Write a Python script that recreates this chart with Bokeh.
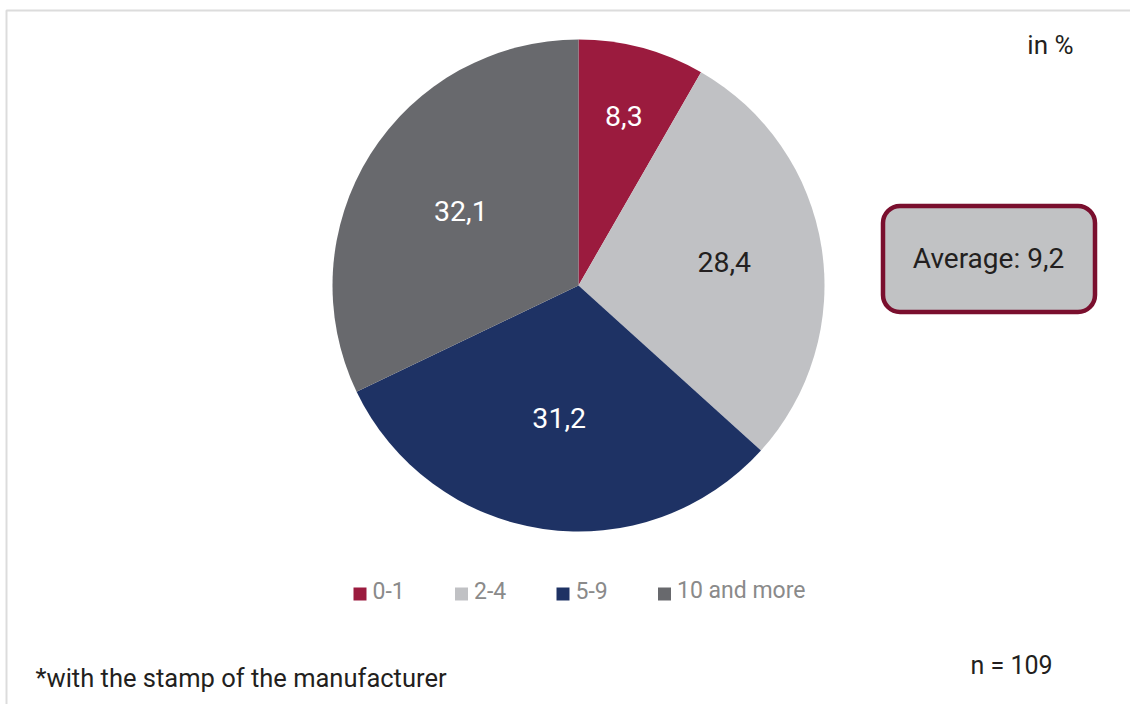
import numpy as np
from bokeh.plotting import figure
from bokeh.models import Range1d, BoxAnnotation, ColumnDataSource
from bokeh.core.properties import value
from bokeh.embed import file_html
from bokeh.resources import INLINE

# ---- data ----
categories = ["0-1", "2-4", "5-9", "10 and more"]
shares = [8.3, 28.4, 31.2, 32.1]
share_labels = ["8,3", "28,4", "31,2", "32,1"]
average_text = "Average: 9,2"
unit_text = "in %"
note_text = "*with the stamp of the manufacturer"
n_text = "n = 109"

# ---- style / layout ----
colors = ["#9B1B3E", "#C0C1C4", "#1E3264", "#68696D"]
label_colors = ["#FFFFFF", "#231F20", "#FFFFFF", "#FFFFFF"]
label_radius = [0.715, 0.60, 0.545, 0.565]
FONT = "Roboto"
W, H = 1130, 704
CX, CY, R = 578, 285, 246


def Y(py):
    return H - py


p = figure(width=W, height=H, x_range=Range1d(0, W), y_range=Range1d(0, H),
           x_axis_type=None, y_axis_type=None, output_backend="svg",
           toolbar_location=None, min_border=0)
p.grid.visible = False
p.outline_line_color = None
p.background_fill_color = "white"
p.border_fill_color = "white"

# frame lines (top + left)
p.line(x=[6, 6, W], y=[Y(H), Y(10), Y(10)], line_color="#DCDCDC", line_width=2)

# pie
frac = np.array(shares) / np.sum(shares)
cum = np.concatenate([[0.0], np.cumsum(frac)])
start = np.pi / 2 - 2 * np.pi * cum[:-1]
end = np.pi / 2 - 2 * np.pi * cum[1:]
mid = (start + end) / 2
src = ColumnDataSource(dict(start=start, end=end, color=colors))
p.wedge(x=CX, y=Y(CY), radius=R, start_angle="start", end_angle="end",
        direction="clock", fill_color="color", line_color=None, source=src)

# slice labels
lr = np.array(label_radius) * R
lsrc = ColumnDataSource(dict(x=CX + lr * np.cos(mid), y=Y(CY) + lr * np.sin(mid),
                             text=share_labels, color=label_colors))
p.text(x="x", y="y", text="text", text_color="color", source=lsrc,
       text_font=value(FONT), text_font_size="28.5px", text_align="center",
       text_baseline="middle")

# legend
leg_x = [359.5, 461, 562.5, 664]
leg_src = ColumnDataSource(dict(x=leg_x, tx=[v + 12.5 for v in leg_x],
                                y=[Y(593.5)] * 4, ty=[Y(590)] * 4,
                                color=colors, text=categories))
p.rect(x="x", y="y", width=13, height=13, fill_color="color", line_color=None,
       source=leg_src)
p.text(x="tx", y="ty", text="text", source=leg_src, text_color="#8A8A8A",
       text_font=value(FONT), text_font_size="23px", text_align="left",
       text_baseline="middle")

# average box
box = BoxAnnotation(left=882.5, right=1094.5, top=Y(205.5), bottom=Y(311.5),
                    fill_color="#C1C2C4", fill_alpha=1.0, line_color="#7A0F2E",
                    line_alpha=1.0, line_width=4.5, border_radius=17,
                    level="underlay")
p.add_layout(box)
p.text(x=[988], y=[Y(258)], text=[average_text], text_color="#231F20",
       text_font=value(FONT), text_font_size="28px", text_align="center",
       text_baseline="middle")

# unit, note, n
p.text(x=[1073], y=[Y(44)], text=[unit_text], text_color="#231F20",
       text_font=value(FONT), text_font_size="26px", text_align="right",
       text_baseline="middle")
p.text(x=[35], y=[Y(677)], text=[note_text], text_color="#231F20",
       text_font=value(FONT), text_font_size="25.5px", text_align="left",
       text_baseline="middle")
p.text(x=[970], y=[Y(665)], text=[n_text], text_color="#231F20",
       text_font=value(FONT), text_font_size="25px", text_align="left",
       text_baseline="middle")

open("out.html", "w").write(file_html(p, INLINE))
